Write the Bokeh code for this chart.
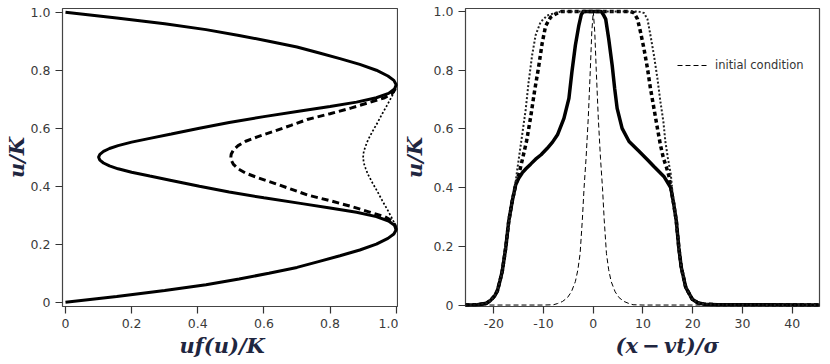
from bokeh.plotting import figure
from bokeh.layouts import row
from bokeh.models import Range1d, FixedTicker, Legend, LegendItem, Title
from bokeh.embed import file_html
from bokeh.resources import INLINE

# ---------------- left panel: u/K versus u f(u)/K ----------------
solid_u = [0.000, 0.020, 0.040, 0.060, 0.080, 0.100, 0.120, 0.140, 0.160, 0.180,
           0.200, 0.220, 0.235, 0.250, 0.265, 0.280, 0.295, 0.310, 0.325, 0.340,
           0.360, 0.380, 0.400, 0.420, 0.435, 0.448, 0.460, 0.470, 0.480, 0.490,
           0.500, 0.510, 0.520, 0.530, 0.540, 0.552, 0.565, 0.580, 0.600, 0.620,
           0.640, 0.660, 0.675, 0.690, 0.705, 0.720, 0.735, 0.750, 0.765, 0.780,
           0.800, 0.820, 0.840, 0.860, 0.880, 0.900, 0.920, 0.940, 0.960, 0.980, 1.000]
solid_uf = [0.000, 0.155, 0.300, 0.425, 0.525, 0.615, 0.700, 0.765, 0.830, 0.890,
            0.940, 0.975, 0.993, 1.000, 0.995, 0.977, 0.940, 0.880, 0.800, 0.715,
            0.600, 0.495, 0.405, 0.320, 0.255, 0.200, 0.159, 0.133, 0.115, 0.104,
            0.100, 0.104, 0.115, 0.133, 0.159, 0.200, 0.255, 0.320, 0.405, 0.495,
            0.600, 0.715, 0.800, 0.880, 0.940, 0.977, 0.995, 1.000, 0.993, 0.975,
            0.940, 0.890, 0.830, 0.765, 0.700, 0.615, 0.525, 0.425, 0.300, 0.155, 0.000]

dashed_u = [0.250, 0.265, 0.280, 0.295, 0.310, 0.330, 0.350, 0.370, 0.390, 0.410,
            0.430, 0.445, 0.460, 0.475, 0.490, 0.500, 0.510, 0.525, 0.540, 0.555,
            0.570, 0.590, 0.610, 0.630, 0.650, 0.670, 0.690, 0.705, 0.720, 0.735, 0.750]
dashed_uf = [1.000, 0.997, 0.988, 0.965, 0.922, 0.865, 0.800, 0.731, 0.682, 0.632,
             0.580, 0.545, 0.522, 0.508, 0.501, 0.500, 0.501, 0.508, 0.522, 0.545,
             0.580, 0.632, 0.682, 0.731, 0.800, 0.865, 0.922, 0.965, 0.988, 0.997, 1.000]

dotted_u = [0.250, 0.270, 0.290, 0.320, 0.350, 0.380, 0.410, 0.440, 0.460, 0.480,
            0.500, 0.520, 0.540, 0.560, 0.590, 0.620, 0.650, 0.680, 0.710, 0.730, 0.750]
dotted_uf = [1.000, 0.996, 0.987, 0.973, 0.958, 0.944, 0.929, 0.915, 0.908, 0.902,
             0.900, 0.902, 0.908, 0.915, 0.929, 0.944, 0.958, 0.973, 0.987, 0.996, 1.000]

left_ticks = [0.0, 0.2, 0.4, 0.6, 0.8, 1.0]
left_tick_labels = ["0", "0.2", "0.4", "0.6", "0.8", "1.0"]
left_xlabel = "uf(u)/K"
ylabel = "u/K"

# ---------------- right panel: u/K versus (x - vt)/sigma ----------------
sol_x = [-25.7, -23.3, -21.5, -20.7, -19.8, -19.3, -18.8, -18.3, -17.6, -17.0,
         -16.3, -15.6, -15.0, -14.3, -13.5, -12.6, -11.6, -10.5, -9.3, -8.2,
         -7.2, -5.9, -4.9, -4.3, -3.6, -2.9, -2.4, -2.0, 1.6, 2.0,
         2.5, 3.1, 3.8, 4.3, 4.8, 5.8, 7.2, 9.0, 10.9, 12.2,
         14.2, 15.6, 16.2, 16.7, 17.2, 17.7, 18.6, 19.9, 21.0, 22.3, 25.0, 45.5]
sol_y = [0.0, 0.001, 0.006, 0.015, 0.032, 0.048, 0.080, 0.116, 0.196, 0.286,
         0.354, 0.410, 0.432, 0.450, 0.465, 0.480, 0.497, 0.512, 0.533, 0.555,
         0.580, 0.636, 0.704, 0.794, 0.885, 0.953, 0.990, 1.0, 1.0, 0.990,
         0.974, 0.907, 0.817, 0.738, 0.670, 0.602, 0.557, 0.527, 0.495, 0.472,
         0.438, 0.399, 0.342, 0.286, 0.196, 0.128, 0.060, 0.020, 0.008, 0.003, 0.001, 0.0]

dash_x = [-25.7, -23.3, -21.5, -20.7, -19.8, -19.3, -18.8, -18.3, -17.6, -17.0,
          -16.3, -15.6, -14.9, -14.2, -13.4, -12.6, -11.8, -11.0, -10.3, -9.6,
          -8.6, -7.4, -6.4, 7.5, 8.2, 8.9, 9.5, 10.2, 10.9, 11.5,
          12.2, 12.9, 13.5, 14.1, 14.7, 15.2, 15.6, 16.2, 16.7, 17.2,
          17.7, 18.6, 19.9, 21.0, 22.3, 25.0, 45.5]
dash_y = [0.0, 0.001, 0.006, 0.015, 0.032, 0.048, 0.080, 0.116, 0.196, 0.286,
          0.354, 0.410, 0.450, 0.500, 0.560, 0.640, 0.730, 0.810, 0.890, 0.950,
          0.980, 0.993, 1.0, 1.0, 0.995, 0.974, 0.930, 0.873, 0.806, 0.738,
          0.670, 0.602, 0.546, 0.501, 0.470, 0.440, 0.399, 0.342, 0.286, 0.196,
          0.128, 0.060, 0.020, 0.008, 0.003, 0.001, 0.0]

dot_x = [-25.7, -23.3, -21.5, -20.7, -19.8, -19.3, -18.8, -18.3, -17.6, -17.0,
         -16.3, -15.8, -15.3, -14.8, -14.3, -13.6, -13.0, -12.3, -11.6, -10.6,
         -9.3, -7.2, -6.0, 9.0, 10.2, 10.9, 11.5, 12.2, 12.9, 13.5,
         14.1, 14.5, 15.0, 15.6, 16.0, 16.7, 17.2, 17.7, 18.6, 19.9,
         21.0, 22.3, 25.0, 45.5]
dot_y = [0.0, 0.001, 0.006, 0.015, 0.032, 0.048, 0.080, 0.116, 0.196, 0.286,
         0.354, 0.395, 0.460, 0.520, 0.580, 0.665, 0.760, 0.851, 0.919, 0.964,
         0.986, 0.998, 1.0, 1.0, 0.995, 0.974, 0.919, 0.851, 0.772, 0.693,
         0.625, 0.557, 0.501, 0.444, 0.370, 0.286, 0.196, 0.128, 0.060, 0.020,
         0.008, 0.003, 0.001, 0.0]

ic_x = [-25.7, -10.0, -8.0, -7.2, -6.2, -5.2, -4.4, -3.6, -3.1, -2.65,
        -2.2, -1.85, -1.45, -1.0, -0.6, -0.3, 0.0, 0.3, 0.6, 1.0,
        1.45, 1.85, 2.2, 2.65, 3.1, 3.6, 4.4, 5.2, 6.2, 7.2,
        8.0, 10.0, 45.5]
ic_y = [0.0, 0.0, 0.001, 0.005, 0.012, 0.025, 0.045, 0.080, 0.120, 0.175,
        0.290, 0.400, 0.500, 0.640, 0.800, 0.930, 1.0, 0.930, 0.800, 0.640,
        0.500, 0.400, 0.290, 0.175, 0.120, 0.080, 0.045, 0.025, 0.012, 0.005,
        0.001, 0.0, 0.0]

right_xticks = [-20, -10, 0, 10, 20, 30, 40]
right_xtick_labels = ["-20", "-10", "0", "10", "20", "30", "40"]
right_xlabel = "(x\u2009\u2212\u2009vt)/\u03c3"
legend_label = "initial condition"

AX = "#333333"
LAB = "#1f2640"


def style(p, xt, xl, yt, yl, ylab, ys):
    p.grid.visible = False
    p.xaxis.ticker = FixedTicker(ticks=xt)
    p.yaxis.ticker = FixedTicker(ticks=yt)
    p.xaxis.major_label_overrides = dict(zip(xt, xl))
    p.yaxis.major_label_overrides = dict(zip(yt, yl))
    p.yaxis.axis_label = ylab
    p.yaxis.axis_label_standoff = ys
    for ax in (p.xaxis[0], p.yaxis[0]):
        ax.axis_line_color = None
        ax.major_tick_out = 7
        ax.major_tick_in = 0
        ax.major_tick_line_color = AX
        ax.major_tick_line_width = 1.2
        ax.minor_tick_line_color = None
        ax.major_label_standoff = 5
        ax.major_label_text_font = "DejaVu Sans"
        ax.major_label_text_font_size = "12.5px"
        ax.major_label_text_color = "#3a3a3a"
        ax.axis_label_text_font = "DejaVu Serif"
        ax.axis_label_text_font_style = "bold italic"
        ax.axis_label_text_font_size = "21px"
        ax.axis_label_text_color = LAB
    p.outline_line_color = "#444444"
    p.outline_line_width = 1.2
    p.background_fill_color = "white"
    p.border_fill_color = "white"


def x_title(p, text, shift):
    # left-aligned title below the axis, shifted right from the frame's left edge
    p.add_layout(Title(text=text, align="left", offset=shift, standoff=0,
                       text_font="DejaVu Serif", text_font_style="bold italic",
                       text_font_size="21px", text_color=LAB), "below")


p1 = figure(width=398, height=364, x_range=Range1d(-0.009, 1.007),
            y_range=Range1d(-0.0148, 1.0128), output_backend="svg",
            toolbar_location=None, min_border_left=62, min_border_right=0,
            min_border_top=8, min_border_bottom=58)
style(p1, left_ticks, left_tick_labels, left_ticks, left_tick_labels, ylabel, -1)
p1.line(solid_uf, solid_u, line_color="black", line_width=3)
p1.line(dashed_uf, dashed_u, line_color="black", line_width=3, line_dash="7 4")
p1.line(dotted_uf, dotted_u, line_color="black", line_width=1.7, line_dash="2 2")
x_title(p1, left_xlabel, 117)

p2 = figure(width=432, height=364, x_range=Range1d(-25.7, 45.5),
            y_range=Range1d(-0.005, 1.0102), output_backend="svg",
            toolbar_location=None, min_border_left=67, min_border_right=11,
            min_border_top=8, min_border_bottom=58)
style(p2, right_xticks, right_xtick_labels, left_ticks, left_tick_labels, ylabel, 4)
p2.line(sol_x, sol_y, line_color="black", line_width=3.5)
p2.line(dash_x, dash_y, line_color="black", line_width=3.5, line_dash="4 3")
p2.line(dot_x, dot_y, line_color="#222222", line_width=2, line_dash="2 2")
r_ic = p2.line(ic_x, ic_y, line_color="black", line_width=1, line_dash="5 3")
x_title(p2, right_xlabel, 150)

legend = Legend(items=[LegendItem(label=legend_label, renderers=[r_ic])],
                location=(212, 234), border_line_color=None,
                background_fill_alpha=0, padding=0, margin=0, spacing=0,
                label_standoff=7, glyph_width=31, glyph_height=12,
                label_height=12, label_text_font="DejaVu Sans",
                label_text_font_size="11.5px", label_text_color="#333333")
p2.add_layout(legend)

layout = row(p1, p2, spacing=0)
open("out.html", "w").write(file_html(layout, INLINE))
